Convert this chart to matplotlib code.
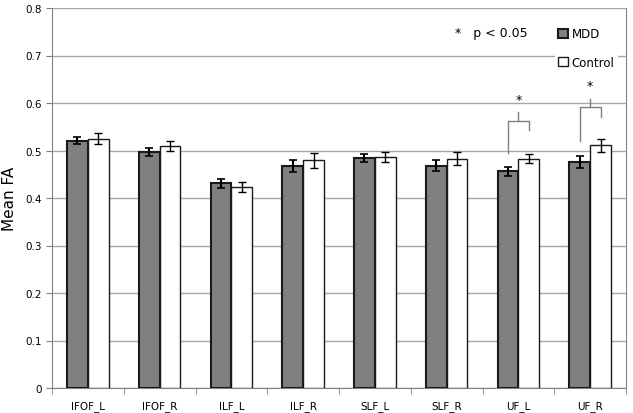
import numpy as np
import matplotlib.pyplot as plt

tracts = ['IFOF_L', 'IFOF_R', 'ILF_L', 'ILF_R', 'SLF_L', 'SLF_R', 'UF_L', 'UF_R']
mdd = [0.521, 0.497, 0.431, 0.467, 0.484, 0.468, 0.456, 0.476]
mdd_err = [0.007, 0.009, 0.010, 0.013, 0.009, 0.011, 0.009, 0.013]
control = [0.525, 0.509, 0.423, 0.479, 0.486, 0.483, 0.483, 0.511]
control_err = [0.012, 0.010, 0.011, 0.015, 0.010, 0.013, 0.009, 0.014]
sig_tracts = ['UF_L', 'UF_R']

fig = plt.figure(figsize=(6.33, 4.14), dpi=100)
ax = fig.add_axes([52 / 633, 25 / 414, 574 / 633, 380 / 414])

x = np.arange(len(tracts))
w = 0.29
ax.bar(x - w / 2, mdd, w, color='#808080', edgecolor='#1a1a1a', linewidth=1.5,
       label='MDD', zorder=3)
ax.bar(x + w / 2, control, w, color='white', edgecolor='#1a1a1a', linewidth=1.0,
       label='Control', zorder=3)
ax.errorbar(x - w / 2, mdd, yerr=mdd_err, fmt='none', ecolor='black',
            elinewidth=1.5, capsize=3, capthick=1.2, zorder=4)
ax.errorbar(x + w / 2, control, yerr=control_err, fmt='none', ecolor='black',
            elinewidth=1.0, capsize=3, capthick=1.0, zorder=4)

# significance brackets
for name in sig_tracts:
    i = tracts.index(name)
    lo = mdd[i] + mdd_err[i] + 0.03
    top = max(mdd[i], control[i]) + 0.08
    xl, xr = i - w / 2, i + w / 2
    ax.plot([xl, xl, xr, xr], [lo, top, top, top - 0.02], color='#808080', lw=1.0, zorder=2)
    ax.plot([i, i], [top, top + 0.018], color='#808080', lw=1.0, zorder=2)
    ax.text(i, top + 0.045, '*', ha='center', va='center', fontsize=9)

ax.set_xlim(-0.5, len(tracts) - 0.5)
ax.set_ylim(0, 0.8)
ax.set_yticks(np.arange(0, 0.81, 0.1))
ax.set_yticklabels(['0'] + ['%.1f' % v for v in np.arange(0.1, 0.81, 0.1)])
ax.set_xticks(x)
ax.set_xticklabels(tracts)
ax.set_xticks(np.arange(-0.5, len(tracts)), minor=True)
ax.tick_params(axis='x', which='major', length=0, labelsize=7.5, pad=9)
ax.tick_params(axis='x', which='minor', length=4, color='#808080')
ax.tick_params(axis='y', length=4, color='#808080', labelsize=7.5)
ax.yaxis.grid(True, color='#a6a6a6', lw=1.0, zorder=0)
ax.set_axisbelow(True)
for s in ['left', 'bottom', 'right']:
    ax.spines[s].set_color('#808080')
ax.spines['top'].set_visible(False)
ax.set_ylabel('Mean FA', fontsize=11, labelpad=6)

fig.text(455 / 633, 1 - 33 / 414, '*   p < 0.05', fontsize=9, va='center')

leg = ax.legend(loc='upper right', bbox_to_anchor=(0.99, 0.965), frameon=True,
                fontsize=8.5, handlelength=0.8, handleheight=0.8, handletextpad=0.3,
                labelspacing=1.3, borderaxespad=0.2, borderpad=0.3, fancybox=False)
leg.get_frame().set_edgecolor('none')
leg.get_frame().set_facecolor('white')
leg.get_frame().set_alpha(1)
leg.set_zorder(5)

fig.savefig('out.png', dpi=100)
